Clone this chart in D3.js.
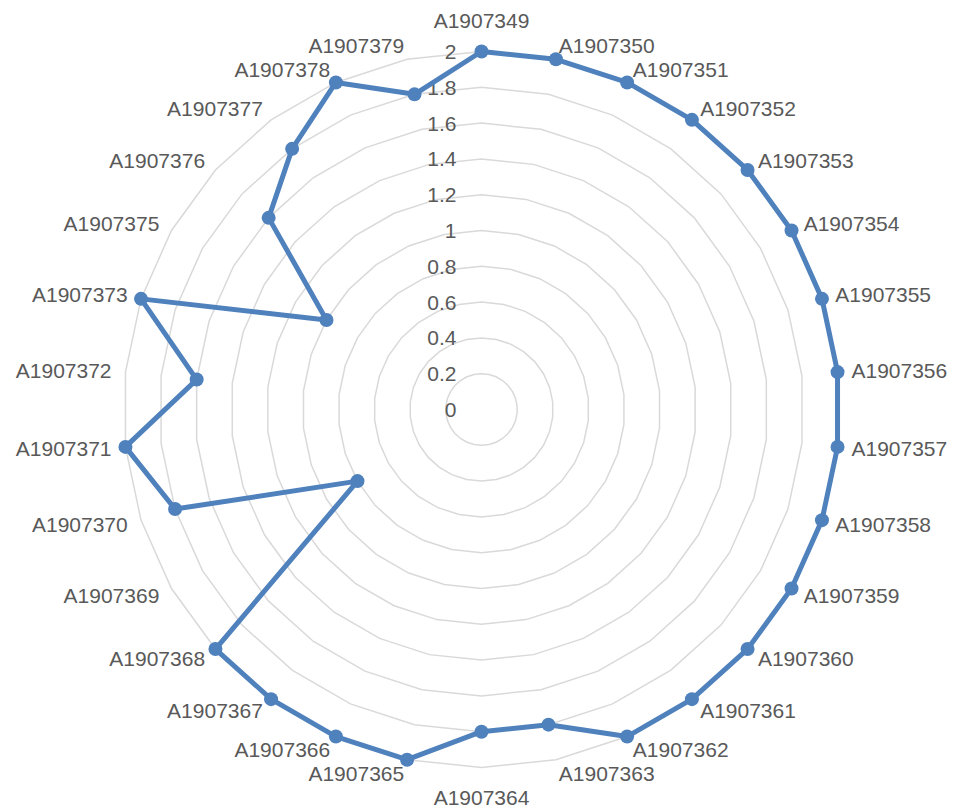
<!DOCTYPE html>
<html>
<head>
<meta charset="utf-8">
<script src="https://cdn.jsdelivr.net/npm/d3@7"></script>
<style>
  html, body { margin: 0; padding: 0; background: #ffffff; }
  svg { display: block; }
  text { font-family: "Liberation Sans", Arial, sans-serif; fill: #595959; }
</style>
</head>
<body>
<svg id="chart" width="955" height="811"></svg>
<script>
const categories = ["A1907349","A1907350","A1907351","A1907352","A1907353","A1907354","A1907355","A1907356","A1907357","A1907358","A1907359","A1907360","A1907361","A1907362","A1907363","A1907364","A1907365","A1907366","A1907367","A1907368","A1907369","A1907370","A1907371","A1907372","A1907373","A1907375","A1907376","A1907377","A1907378","A1907379"];
const values = [2,2,2,2,2,2,2,2,2,2,2,2,2,2,1.8,1.8,2,2,2,2,0.8,1.8,2,1.6,2,1.0,1.6,1.8,2,1.8];
const tickValues = [0,0.2,0.4,0.6,0.8,1,1.2,1.4,1.6,1.8,2];
const tickLabels = ["0","0.2","0.4","0.6","0.8","1","1.2","1.4","1.6","1.8","2"];

const svg = d3.select("#chart");
const cx = 481.5, cy = 409.5, R = 358;
const fontSize = 21;

const r = d3.scaleLinear().domain([0, 2]).range([0, R]);
const angle = d3.scaleLinear().domain([0, categories.length]).range([0, 2 * Math.PI]);

const g = svg.append("g").attr("transform", `translate(${cx},${cy})`);

const pt = (i, v) => [r(v) * Math.sin(angle(i)), -r(v) * Math.cos(angle(i))];

// grid polygons
const gridLine = d3.line().curve(d3.curveLinearClosed);
g.append("g").selectAll("path")
  .data(tickValues.filter(t => t > 0))
  .join("path")
  .attr("d", t => gridLine(categories.map((c, i) => pt(i, t))))
  .attr("fill", "none")
  .attr("stroke", "#d9d9d9")
  .attr("stroke-width", 1.5);

// axis tick labels
g.append("g").selectAll("text")
  .data(tickValues)
  .join("text")
  .attr("x", -25)
  .attr("y", t => -r(t))
  .attr("text-anchor", "end")
  .attr("dominant-baseline", "central")
  .attr("font-size", fontSize)
  .text((t, i) => tickLabels[i]);

// category labels
const gap = 14;
g.append("g").selectAll("text")
  .data(categories)
  .join("text")
  .attr("font-size", fontSize)
  .attr("dominant-baseline", "central")
  .each(function(d, i) {
    const a = angle(i);
    const s = Math.sin(a), c = Math.cos(a);
    let x = (R + gap) * s, y = -(R + gap) * c;
    let anchor = "middle";
    if (Math.abs(s) < 1e-6) {
      y += c > 0 ? -17 : 16;
    } else {
      anchor = s > 0 ? "start" : "end";
    }
    d3.select(this).attr("x", x).attr("y", y).attr("text-anchor", anchor).text(d);
  });

// series line
const line = d3.line().curve(d3.curveLinearClosed);
g.append("path")
  .attr("d", line(values.map((v, i) => pt(i, v))))
  .attr("fill", "none")
  .attr("stroke", "#4F81BD")
  .attr("stroke-width", 5)
  .attr("stroke-linejoin", "round");

g.append("g").selectAll("circle")
  .data(values)
  .join("circle")
  .attr("cx", (v, i) => pt(i, v)[0])
  .attr("cy", (v, i) => pt(i, v)[1])
  .attr("r", 7)
  .attr("fill", "#4F81BD");
</script>
</body>
</html>
